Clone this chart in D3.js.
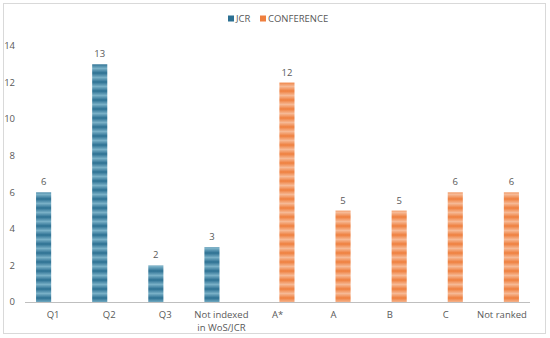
<!DOCTYPE html>
<html>
<head>
<meta charset="utf-8">
<script src="https://cdn.jsdelivr.net/npm/d3@7"></script>
<style>
  body { margin: 0; background: #fff; }
  svg text { font-family: 'Open Sans', 'Noto Sans', sans-serif; fill: #595959; }
</style>
</head>
<body>
<svg id="chart"></svg>
<script>
// categories and values
let categories = ['Q1', 'Q2', 'Q3', 'Not indexed\nin WoS/JCR', 'A*', 'A', 'B', 'C', 'Not ranked']
let seriesNames = ['JCR', 'CONFERENCE']
let jcrValues = [6, 13, 2, 3, null, null, null, null, null]
let confValues = [null, null, null, null, 12, 5, 5, 6, 6]
let yTicks = [0, 2, 4, 6, 8, 10, 12, 14]

let colors = { JCR: ['#2c7092', '#79b0c7'], CONFERENCE: ['#ef7f3e', '#f6b995'] }

let outerWidth = 550
let outerHeight = 338
let margins = { top: 46, bottom: 36, left: 25, right: 20 }
let innerWidth = outerWidth - margins.left - margins.right
let innerHeight = outerHeight - margins.top - margins.bottom

let svg = d3.select('svg#chart')
  .attr('width', outerWidth)
  .attr('height', outerHeight)

// frame
svg.append('rect')
  .attr('x', 3.5).attr('y', 3.5)
  .attr('width', 542).attr('height', 330)
  .attr('fill', '#fff')
  .attr('stroke', '#d9d9d9')

//striped fills
let defs = svg.append('defs')
seriesNames.forEach(s => {
  let grad = defs.append('linearGradient')
    .attr('id', 'grad-' + s)
    .attr('x1', 0).attr('y1', 0).attr('x2', 0).attr('y2', 1)
  grad.append('stop').attr('offset', '0%').attr('stop-color', colors[s][0])
  grad.append('stop').attr('offset', '50%').attr('stop-color', colors[s][1])
  grad.append('stop').attr('offset', '100%').attr('stop-color', colors[s][0])
  let pat = defs.append('pattern')
    .attr('id', 'pat-' + s)
    .attr('patternUnits', 'userSpaceOnUse')
    .attr('width', 20).attr('height', 9)
  pat.append('rect')
    .attr('width', 20).attr('height', 9)
    .attr('fill', 'url(#grad-' + s + ')')
})

let inner = svg.append('g')
  .attr('transform', 'translate(' + margins.left + ',' + margins.top + ')')

let xScale = d3.scaleBand()
  .domain(categories)
  .range([0, innerWidth])
  .paddingInner(0).paddingOuter(0)

let xSub = d3.scaleBand()
  .domain(seriesNames)
  .range([xScale.bandwidth() / 2 - 17, xScale.bandwidth() / 2 + 17])
  .paddingInner(0.2)

let yScale = d3.scaleLinear()
  .domain([0, 14])
  .range([innerHeight, 0])

// y axis labels
inner.selectAll('text.ytick')
  .data(yTicks)
  .join('text')
  .attr('class', 'ytick')
  .attr('x', -10)
  .attr('y', d => yScale(d))
  .attr('dy', '0.35em')
  .attr('text-anchor', 'end')
  .style('font-size', '9.5px')
  .text(d => d)

// bars
let rows = []
categories.forEach((c, i) => {
  if (jcrValues[i] != null) rows.push({ cat: c, series: 'JCR', value: jcrValues[i] })
  if (confValues[i] != null) rows.push({ cat: c, series: 'CONFERENCE', value: confValues[i] })
})

inner.selectAll('rect.bar')
  .data(rows)
  .join('rect')
  .attr('class', 'bar')
  .attr('x', d => xScale(d.cat) + xSub(d.series))
  .attr('y', d => yScale(d.value))
  .attr('width', xSub.bandwidth())
  .attr('height', d => innerHeight - yScale(d.value))
  .attr('fill', d => 'url(#pat-' + d.series + ')')

// value labels
inner.selectAll('text.val')
  .data(rows)
  .join('text')
  .attr('class', 'val')
  .attr('x', d => xScale(d.cat) + xSub(d.series) + xSub.bandwidth() / 2)
  .attr('y', d => yScale(d.value) - 7)
  .attr('text-anchor', 'middle')
  .style('font-size', '9.5px')
  .text(d => d.value)

// baseline
inner.append('line')
  .attr('x1', 0).attr('x2', innerWidth)
  .attr('y1', innerHeight + 0.5).attr('y2', innerHeight + 0.5)
  .attr('stroke', '#bfbfbf')

// category labels
let catText = inner.selectAll('text.cat')
  .data(categories)
  .join('text')
  .attr('class', 'cat')
  .attr('x', d => xScale(d) + xScale.bandwidth() / 2)
  .attr('y', innerHeight + 16)
  .attr('text-anchor', 'middle')
  .style('font-size', '9.5px')
catText.selectAll('tspan')
  .data(d => d.split('\n'))
  .join('tspan')
  .attr('x', function () { return d3.select(this.parentNode).attr('x') })
  .attr('dy', (d, i) => i === 0 ? 0 : 12.5)
  .text(d => d)

// legend
let legend = svg.append('g').attr('transform', 'translate(228,19)')
let legendX = [0, 32]
seriesNames.forEach((s, i) => {
  legend.append('rect')
    .attr('x', legendX[i]).attr('y', -3.5)
    .attr('width', 6).attr('height', 6)
    .attr('fill', colors[s][0])
  legend.append('text')
    .attr('x', legendX[i] + 8).attr('y', 0)
    .attr('dy', '0.35em')
    .style('font-size', '9.5px')
    .text(s)
})
</script>
</body>
</html>
